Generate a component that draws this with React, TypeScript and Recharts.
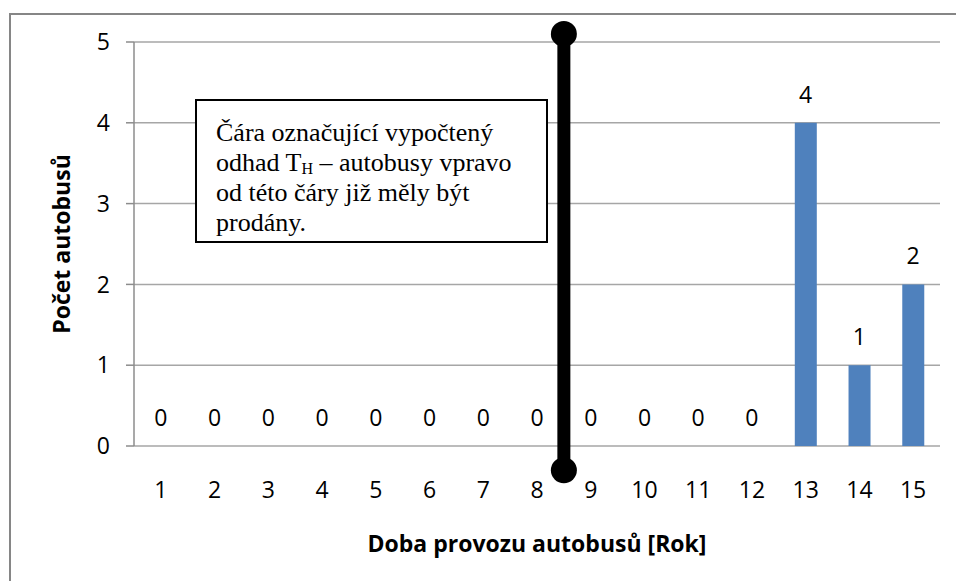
import { Bar, CartesianGrid, ComposedChart, Label, LabelList, Line, ReferenceDot, ReferenceLine, XAxis, YAxis } from "recharts";

// provozní doba (roky) a počet autobusů
const years = ["1", "2", "3", "4", "5", "6", "7", "8", "9", "10", "11", "12", "13", "14", "15"];
const busCounts = [0, 0, 0, 0, 0, 0, 0, 0, 0, 0, 0, 0, 4, 1, 2];
const yTicks = [0, 1, 2, 3, 4, 5];

// odhad T_H – svislá čára mezi 8 a 9
const estimateYear = 8.5;
const markerTop = 5.1;
const markerBottom = -0.3;

const data = years.map((y, i) => ({ year: y, pos: i + 1, count: busCounts[i] }));
const boundaryTicks = [0.5, ...years.map((_, i) => i + 1.5)];

const sans = "'Open Sans', Lato, sans-serif";
const axisGray = "#8c8c8c";

export default function App() {
  return (
    <div style={{ position: "fixed", left: 0, top: 0, width: 956, height: 581, background: "#fff", overflow: "hidden" }}>
      <div
        style={{
          position: "absolute",
          left: 9,
          top: 13,
          width: 1200,
          height: 900,
          borderLeft: "2px solid #868686",
          borderTop: "2px solid #868686",
        }}
      />
      <div style={{ position: "absolute", left: 0, top: 0 }}>
        <ComposedChart width={956} height={581} data={data} margin={{ top: 42, right: 16, left: 0, bottom: 0 }} barCategoryGap={16}>
          <CartesianGrid vertical={false} stroke="#a6a6a6" strokeWidth={1.5} xAxisId="cat" yAxisId="y" />
          <XAxis
            xAxisId="num"
            type="number"
            dataKey="pos"
            domain={[0.5, 15.5]}
            ticks={boundaryTicks}
            height={0}
            tickSize={8}
            stroke={axisGray}
            strokeWidth={1.5}
            tickFormatter={() => ""}
            allowDataOverflow
          />
          <XAxis
            xAxisId="cat"
            dataKey="year"
            height={135}
            axisLine={false}
            tickLine={false}
            tickSize={0}
            tickMargin={36}
            interval={0}
            tick={{ fill: "#000", fontSize: 23, fontFamily: sans }}
          >
            <Label
              value="Doba provozu autobusů [Rok]"
              position="insideBottom"
              offset={29}
              style={{ fill: "#000", fontSize: 23, fontWeight: 700, fontFamily: sans }}
            />
          </XAxis>
          <YAxis
            yAxisId="y"
            width={134}
            domain={[0, 5]}
            ticks={yTicks}
            tickSize={8}
            tickMargin={16}
            stroke={axisGray}
            strokeWidth={1.5}
            tick={{ fill: "#000", fontSize: 23, fontFamily: sans }}
          >
            <Label
              value="Počet autobusů"
              angle={-90}
              position="center"
              dx={-5}
              style={{ fill: "#000", fontSize: 23, fontWeight: 700, fontFamily: sans }}
            />
          </YAxis>
          <Bar xAxisId="cat" yAxisId="y" dataKey="count" fill="#4F81BD" isAnimationActive={false} />
          <Line
            xAxisId="cat"
            yAxisId="y"
            dataKey="count"
            stroke="none"
            dot={false}
            activeDot={false}
            legendType="none"
            isAnimationActive={false}
          >
            <LabelList dataKey="count" position="top" offset={20} style={{ fill: "#000", fontSize: 23, fontFamily: sans }} />
          </Line>
          <ReferenceLine
            xAxisId="num"
            yAxisId="y"
            segment={[
              { x: estimateYear, y: markerTop },
              { x: estimateYear, y: markerBottom },
            ]}
            stroke="#000"
            strokeWidth={13}
            ifOverflow="visible"
          />
          <ReferenceDot xAxisId="num" yAxisId="y" x={estimateYear} y={markerTop} r={13} fill="#000" stroke="none" ifOverflow="visible" />
          <ReferenceDot xAxisId="num" yAxisId="y" x={estimateYear} y={markerBottom} r={13} fill="#000" stroke="none" ifOverflow="visible" />
        </ComposedChart>
      </div>
      <div
        style={{
          position: "absolute",
          left: 195,
          top: 99,
          width: 349,
          height: 140,
          border: "2px solid #000",
          background: "#fff",
          boxSizing: "content-box",
          fontFamily: "'Liberation Serif', 'Times New Roman', serif",
          fontSize: 26,
          lineHeight: "30px",
          color: "#000",
          whiteSpace: "nowrap",
        }}
      >
        <div style={{ paddingLeft: 19, paddingTop: 17 }}>
          Čára označující vypočtený
          <br />
          odhad T<sub style={{ fontSize: 16, verticalAlign: "-3px", lineHeight: 0 }}>H</sub> – autobusy vpravo
          <br />
          od této čáry již měly být
          <br />
          prodány.
        </div>
      </div>
    </div>
  );
}
